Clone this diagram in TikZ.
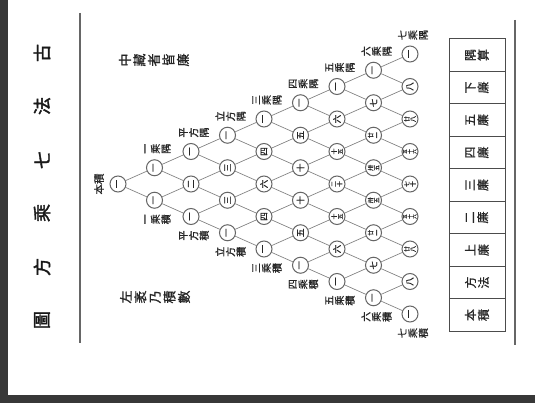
\documentclass[tikz,border=0pt]{standalone}
\usepackage{fontspec}
\newfontfamily\cjk{Noto Sans CJK TC}
\newfontfamily\cjkb[FakeBold=2]{Noto Sans CJK TC}
\newfontfamily\cjkm[FakeBold=1]{Noto Sans CJK TC}
\newcommand\putrow[2]{%
  \foreach \s/\v [count=\jj from 0] in {#2}{%
    \node[num\s] (n-#1-\jj) at ({118+36.5*#1},{184+32.5*(\jj-#1/2)}) {\v};}}
\begin{document}
\begin{tikzpicture}[x=1pt,y=-1pt,
  num1/.style={circle,draw=black!60,line width=1pt,fill=white,minimum size=16pt,
    inner sep=0pt,rotate=90,text=black!85,align=center,font=\cjkm\fontsize{8.5}{8.5}\selectfont},
  num2/.style={num1,font=\cjkm\fontsize{6}{6.1}\selectfont},
  num3/.style={num1,font=\cjkm\fontsize{4.6}{4.7}\selectfont},
  link/.style={draw=black!50,line width=0.65pt},
  lab/.style={rotate=90,align=center,inner sep=0pt,text=black!85,
    font=\cjkm\fontsize{10}{10.5}\selectfont},
  big/.style={rotate=90,align=center,inner sep=0pt,text=black!85,
    font=\cjkm\fontsize{13}{14.5}\selectfont},
  ttl/.style={rotate=90,inner sep=0pt,text=black!90,
    font=\cjkb\fontsize{18}{18}\selectfont},
  cell/.style={rotate=90,draw=black!70,line width=0.9pt,minimum width=32.5pt,
    minimum height=56pt,inner sep=0pt,align=center,text=black!85,
    font=\cjkm\fontsize{12}{13}\selectfont},
  rule/.style={draw=black!60,line width=1.1pt}]
\useasboundingbox (0,0) rectangle (535,403);
\fill[white] (0,0) rectangle (535,403);
\fill[black!78] (0,0) rectangle (8,403);
\fill[black!78] (0,395) rectangle (535,403);

% rules
\coordinate (la) at (80,13); \coordinate (lb) at (80,343);
\coordinate (ra) at (515,20); \coordinate (rb) at (515,345);
\draw[rule] (la) -- (lb);
\draw[rule] (ra) -- (rb);

% title
\foreach \c/\yy in {古/53, 法/106, 七/160, 乘/213, 方/267, 圖/320}
  {\node[ttl] (t\yy) at (42,\yy) {\c};}

% side texts
\node[big] (upper) at (154,60) {中\\藏\\者\\皆\\廉};
\node[big] (lower) at (155,297) {左\\袤\\乃\\積\\數};

% triangle
\putrow{0}{1/一}
\putrow{1}{1/一,1/一}
\putrow{2}{1/一,1/二,1/一}
\putrow{3}{1/一,1/三,1/三,1/一}
\putrow{4}{1/一,1/四,1/六,1/四,1/一}
\putrow{5}{1/一,1/五,1/十,1/十,1/五,1/一}
\putrow{6}{1/一,1/六,2/十\\五,2/二\\十,2/十\\五,1/六,1/一}
\putrow{7}{1/一,1/七,2/廿\\一,2/卅\\五,2/卅\\五,2/廿\\一,1/七,1/一}
\putrow{8}{1/一,1/八,2/廿\\八,3/五\\十\\六,2/七\\十,3/五\\十\\六,2/廿\\八,1/八,1/一}

\foreach \k in {0,...,7}{
  \pgfmathtruncatemacro\kn{\k+1}
  \foreach \j in {0,...,\k}{
    \pgfmathtruncatemacro\jn{\j+1}
    \draw[link] (n-\k-\j) -- (n-\kn-\j);
    \draw[link] (n-\k-\j) -- (n-\kn-\jn);
  }}

% edge labels
\node[lab,font=\cjkm\fontsize{10.5}{10.5}\selectfont] (apex) at (99,184) {本積};
\foreach \k/\t in {1/一\\乘\\隅, 2/平\\方\\隅, 3/立\\方\\隅, 4/三\\乘\\隅,
                   5/四\\乘\\隅, 6/五\\乘\\隅, 7/六\\乘\\隅, 8/七\\乘\\隅}
  {\node[lab] (lt\k) at ({121+36.5*\k},{165-16.25*\k}) {\t};}
\foreach \k/\t in {1/一\\乘\\積, 2/平\\方\\積, 3/立\\方\\積, 4/三\\乘\\積,
                   5/四\\乘\\積, 6/五\\乘\\積, 7/六\\乘\\積, 8/七\\乘\\積}
  {\node[lab] (lb\k) at ({121+36.5*\k},{203+16.25*\k}) {\t};}

% box
\foreach \t [count=\i from 0] in {隅\\算, 下\\廉, 五\\廉, 四\\廉, 三\\廉, 二\\廉, 上\\廉, 方\\法, 本\\積}
  {\node[cell] (c\i) at (477,{55+32.5*\i}) {\t};}
\end{tikzpicture}
\end{document}
